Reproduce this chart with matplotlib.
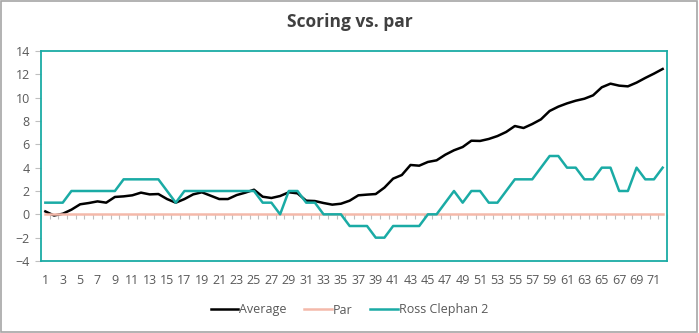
import numpy as np
import matplotlib
matplotlib.use("Agg")
import matplotlib.pyplot as plt
from matplotlib.patches import Rectangle

plt.rcParams['font.family'] = ['Open Sans', 'DejaVu Sans']

# holes 1..72
holes = np.arange(1, 73)

average = [0.25, -0.1, 0.05, 0.4, 0.86, 0.97, 1.11, 1.0, 1.49, 1.54,
           1.63, 1.86, 1.71, 1.74, 1.31, 1.0, 1.31, 1.71, 1.89, 1.6,
           1.31, 1.31, 1.65, 1.86, 2.11, 1.51, 1.4, 1.57, 1.89, 1.8,
           1.17, 1.14, 0.97, 0.83, 0.91, 1.17, 1.63, 1.69, 1.74, 2.29,
           3.06, 3.37, 4.23, 4.17, 4.49, 4.63, 5.11, 5.49, 5.77, 6.31,
           6.29, 6.46, 6.71, 7.06, 7.57, 7.4, 7.74, 8.14, 8.86, 9.23,
           9.51, 9.74, 9.91, 10.2, 10.89, 11.2, 11.03, 10.97, 11.29, 11.69,
           12.06, 12.46]

par = [0] * 72

ross = [1, 1, 1, 2, 2, 2, 2, 2, 2, 3,
        3, 3, 3, 3, 2, 1, 2, 2, 2, 2,
        2, 2, 2, 2, 2, 1, 1, 0, 2, 2,
        1, 1, 0, 0, 0, -1, -1, -1, -2, -2,
        -1, -1, -1, -1, 0, 0, 1, 2, 1, 2,
        2, 1, 1, 2, 3, 3, 3, 4, 5, 5,
        4, 4, 3, 3, 4, 4, 2, 2, 4, 3,
        3, 4]

teal = '#1aaba5'
fig = plt.figure(figsize=(6.99, 3.33), dpi=100)
ax = fig.add_axes([41 / 699, 72 / 333, 626 / 699, 210 / 333])

ax.plot(holes, average, color='black', lw=1.8, label='Average')
ax.plot(holes, par, color='#f4b9aa', lw=1.8, label='Par')
ax.plot(holes, ross, color=teal, lw=1.8, label='Ross Clephan 2')

ax.set_xlim(0.5, 72.5)
ax.set_ylim(-4, 14)
ax.set_yticks(np.arange(-4, 15, 2))
ax.set_xticks(holes[::2])
ax.tick_params(axis='both', labelsize=9, labelcolor='#595959')
ax.tick_params(axis='x', length=0, pad=9)
ax.tick_params(axis='y', length=4, width=0.8, color='#bfbfbf', pad=4)
for s in ax.spines.values():
    s.set_color(teal)
    s.set_linewidth(1.3)

# category tick marks along the zero line
sec = ax.secondary_xaxis(4 / 18)
sec.set_xticks(np.arange(0.5, 73, 1))
sec.set_xticklabels([])
sec.tick_params(length=3.5, width=0.8, color='#bfbfbf', direction='out')
sec.spines['bottom'].set_visible(False)

fig.text(0.5, 1 - 22 / 333, 'Scoring vs. par', ha='center', va='center',
         fontsize=12.5, fontweight='bold', color='#404040')

fig.legend(loc='center', bbox_to_anchor=(0.5, 1 - 310 / 333), ncol=3,
           frameon=False, fontsize=9, handlelength=2.2, handletextpad=0.1,
           columnspacing=1.4, labelcolor='#595959')

fig.patches.append(Rectangle((0.002, 0.003), 0.995, 0.994, transform=fig.transFigure,
                             fill=False, edgecolor='#a6a6a6', lw=1.2))

fig.savefig('out.png', dpi=100)
